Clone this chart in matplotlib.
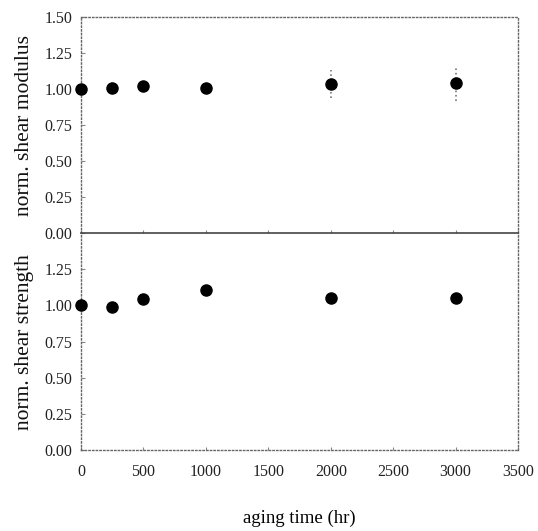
import matplotlib
matplotlib.use("Agg")
import matplotlib.pyplot as plt

aging_time = [0, 250, 500, 1000, 2000, 3000]
modulus = [1.00, 1.01, 1.02, 1.01, 1.035, 1.04]
modulus_err = [0.02, 0.04, 0.04, 0.02, 0.10, 0.12]
strength = [1.00, 0.99, 1.045, 1.11, 1.05, 1.05]
strength_err = [0.01, 0.01, 0.02, 0.01, 0.01, 0.02]
y_ticks = [0.00, 0.25, 0.50, 0.75, 1.00, 1.25, 1.50]
x_ticks = [0, 500, 1000, 1500, 2000, 2500, 3000, 3500]

plt.rcParams['font.family'] = ['Liberation Serif', 'DejaVu Serif']

fig = plt.figure(figsize=(5.38, 5.31), dpi=100)
L, R = 0.1506, 0.963
ax1 = fig.add_axes([L, 0.561, R - L, 0.968 - 0.561])
ax2 = fig.add_axes([L, 0.1525, R - L, 0.561 - 0.1525])
ax2.patch.set_visible(False)

for ax, y, e, lab in [(ax1, modulus, modulus_err, 'norm. shear modulus'),
                      (ax2, strength, strength_err, 'norm. shear strength')]:
    cont = ax.errorbar(aging_time, y, yerr=e, fmt='o', color='black', ms=8,
                       ecolor='#777777', elinewidth=1.2, capsize=0, clip_on=False, zorder=5)
    for bl in cont[2]:
        bl.set_linestyle(':')
    ax.set_xlim(0, 3500)
    ax.set_ylim(0, 1.5)
    ax.set_xticks(x_ticks)
    ax.set_yticks(y_ticks)
    ax.set_yticklabels([f'{v:.2f}' for v in y_ticks])
    ax.set_ylabel(lab, fontsize=15.5, color='#111111')
    ax.yaxis.set_label_coords(-0.108, 0.5)
    for s in ax.spines.values():
        s.set_linestyle(':')
        s.set_color('#666666')
        s.set_linewidth(1)
    ax.tick_params(direction='in', length=3, color='#888888', labelsize=11.5,
                   labelcolor='#222222', pad=6)
    ax.tick_params(axis='x', length=2)

ax1.spines['bottom'].set_linestyle('-')
ax1.spines['bottom'].set_color('#444444')
ax1.spines['bottom'].set_linewidth(1.2)
ax1.tick_params(axis='x', labelbottom=False)
ax2.spines['top'].set_visible(False)
ax2.set_yticks(y_ticks[:-1])
ax2.set_yticklabels([f'{v:.2f}' for v in y_ticks[:-1]])
ax2.set_xticklabels([str(v) for v in x_ticks])
ax2.tick_params(axis='x', pad=10)
ax2.set_xlabel('aging time (hr)', fontsize=13.5)
ax2.xaxis.set_label_coords(0.5, -0.275)

fig.savefig('out.png', dpi=100)
